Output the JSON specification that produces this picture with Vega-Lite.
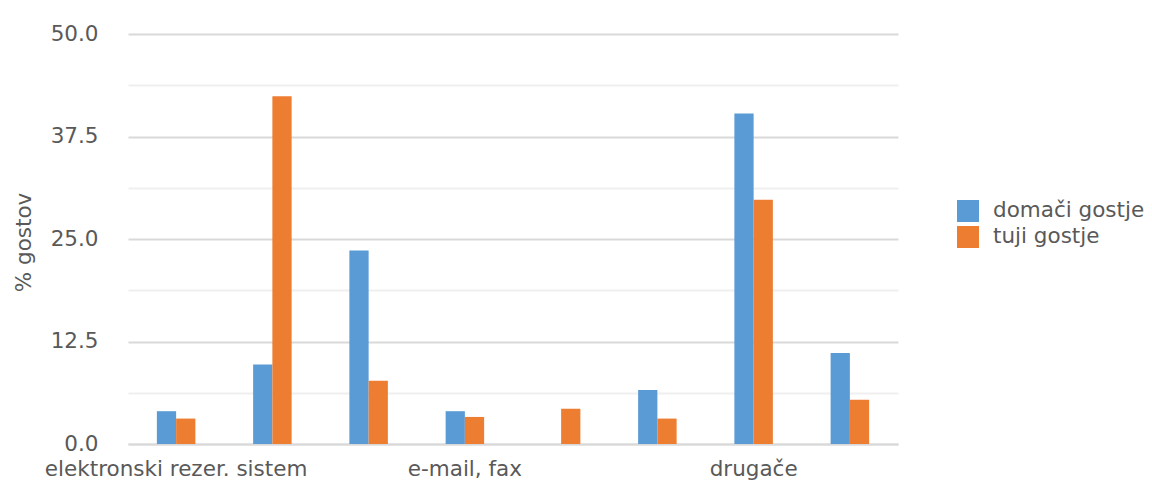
{
  "$schema": "https://vega.github.io/schema/vega-lite/v6.json",
  "width": 770,
  "height": 410,
  "autosize": {"type": "none"},
  "padding": {"left": 128, "top": 34, "right": 254, "bottom": 38},
  "background": "white",
  "config": {
    "view": {"stroke": null},
    "font": "DejaVu Sans"
  },
  "data": {
    "values": [
      {"nacin": "elektronski rezer. sistem", "skupina": "domači gostje", "delez": 4.0},
      {"nacin": "elektronski rezer. sistem", "skupina": "tuji gostje", "delez": 3.1},
      {"nacin": "turistična agencija", "skupina": "domači gostje", "delez": 9.7},
      {"nacin": "turistična agencija", "skupina": "tuji gostje", "delez": 42.4},
      {"nacin": "telefon", "skupina": "domači gostje", "delez": 23.6},
      {"nacin": "telefon", "skupina": "tuji gostje", "delez": 7.7},
      {"nacin": "e-mail, fax", "skupina": "domači gostje", "delez": 4.0},
      {"nacin": "e-mail, fax", "skupina": "tuji gostje", "delez": 3.3},
      {"nacin": "spletna stran", "skupina": "domači gostje", "delez": 0.0},
      {"nacin": "spletna stran", "skupina": "tuji gostje", "delez": 4.3},
      {"nacin": "osebno", "skupina": "domači gostje", "delez": 6.6},
      {"nacin": "osebno", "skupina": "tuji gostje", "delez": 3.1},
      {"nacin": "drugače", "skupina": "domači gostje", "delez": 40.3},
      {"nacin": "drugače", "skupina": "tuji gostje", "delez": 29.8},
      {"nacin": "brez rezervacije", "skupina": "domači gostje", "delez": 11.1},
      {"nacin": "brez rezervacije", "skupina": "tuji gostje", "delez": 5.4}
    ]
  },
  "mark": {"type": "bar"},
  "encoding": {
    "x": {
      "field": "nacin",
      "type": "nominal",
      "sort": null,
      "scale": {"paddingInner": 0.6, "paddingOuter": 0.3},
      "axis": {
        "title": null,
        "labelAngle": 0,
        "labelFontSize": 21.5,
        "labelColor": "#595959",
        "labelPadding": 14,
        "labelOverlap": false,
        "labelLimit": 400,
        "labelExpr": "indexof(['elektronski rezer. sistem', 'e-mail, fax', 'drugače'], datum.value) >= 0 ? datum.label : ''",
        "ticks": false,
        "domainColor": "#d9d9d9",
        "domainWidth": 2,
        "grid": false
      }
    },
    "xOffset": {"field": "skupina", "type": "nominal", "scale": {"paddingInner": 0, "paddingOuter": 0}},
    "y": {
      "field": "delez",
      "type": "quantitative",
      "scale": {"domain": [0, 50], "nice": false},
      "axis": {
        "title": "% gostov",
        "titleFontSize": 21.5,
        "titleFontWeight": "normal",
        "titleColor": "#595959",
        "titleX": -104,
        "titleY": 208,
        "titleBaseline": "middle",
        "values": [0, 6.25, 12.5, 18.75, 25, 31.25, 37.5, 43.75, 50],
        "format": ".1f",
        "labelExpr": "datum.value % 12.5 === 0 ? datum.label : ''",
        "labelFontSize": 21.5,
        "labelColor": "#595959",
        "labelPadding": 30,
        "ticks": false,
        "domain": false,
        "grid": true,
        "gridWidth": 2,
        "gridColor": {"condition": {"test": "datum.value % 12.5 === 0", "value": "#d9d9d9"}, "value": "#efefef"}
      }
    },
    "color": {
      "field": "skupina",
      "type": "nominal",
      "scale": {"domain": ["domači gostje", "tuji gostje"], "range": ["#5b9bd5", "#ed7d31"]},
      "legend": {
        "title": null,
        "orient": "none",
        "legendX": 829,
        "legendY": 166,
        "symbolType": "square",
        "symbolSize": 484,
        "symbolStrokeWidth": 0,
        "labelFontSize": 21.5,
        "labelColor": "#595959",
        "labelOffset": 14,
        "rowPadding": 4
      }
    }
  }
}
